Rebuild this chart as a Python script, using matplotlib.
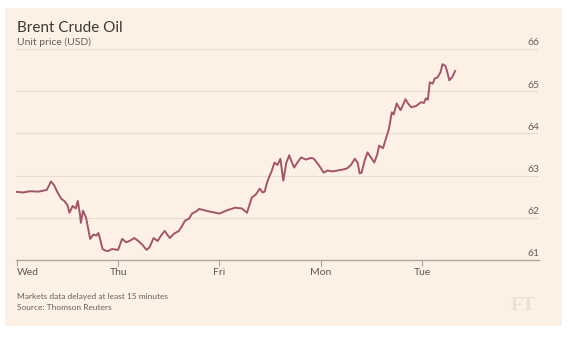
import matplotlib
matplotlib.use("Agg")
import matplotlib.pyplot as plt
from matplotlib.patches import Rectangle

# ---- data (days since Wednesday open; price in USD) ----
days = [-0.020, 0.061, 0.133, 0.214, 0.296, 0.337, 0.367, 0.398, 0.439, 0.469,
        0.500, 0.520, 0.551, 0.582, 0.602, 0.622, 0.633, 0.653, 0.684, 0.704,
        0.724, 0.755, 0.786, 0.806, 0.827, 0.847, 0.878, 0.898, 0.939, 1.000,
        1.040, 1.080, 1.120, 1.160, 1.200, 1.240, 1.280, 1.310, 1.350, 1.390,
        1.430, 1.460, 1.510, 1.550, 1.600, 1.630, 1.660, 1.700, 1.730, 1.770,
        1.800, 1.880, 2.000, 2.078, 2.155, 2.223, 2.272, 2.320, 2.359, 2.398,
        2.427, 2.447, 2.466, 2.485, 2.515, 2.544, 2.573, 2.602, 2.631, 2.660,
        2.689, 2.718, 2.738, 2.767, 2.806, 2.854, 2.903, 2.932, 2.981, 3.029,
        3.067, 3.115, 3.163, 3.212, 3.260, 3.298, 3.337, 3.365, 3.385, 3.404,
        3.433, 3.462, 3.490, 3.529, 3.558, 3.577, 3.615, 3.644, 3.673, 3.702,
        3.721, 3.750, 3.788, 3.808, 3.837, 3.865, 3.894, 3.942, 3.990, 4.019,
        4.038, 4.058, 4.077, 4.106, 4.125, 4.154, 4.183, 4.202, 4.231, 4.250,
        4.269, 4.298, 4.327]
price = [62.62, 62.60, 62.63, 62.62, 62.66, 62.86, 62.78, 62.62, 62.45, 62.40,
         62.30, 62.12, 62.28, 62.22, 62.40, 62.10, 61.88, 62.17, 62.00, 61.75,
         61.50, 61.60, 61.58, 61.64, 61.45, 61.26, 61.22, 61.21, 61.26, 61.24,
         61.50, 61.42, 61.46, 61.52, 61.45, 61.36, 61.24, 61.30, 61.52, 61.45,
         61.60, 61.69, 61.52, 61.62, 61.69, 61.80, 61.93, 61.98, 62.10, 62.15,
         62.21, 62.16, 62.10, 62.18, 62.24, 62.22, 62.12, 62.48, 62.55, 62.69,
         62.60, 62.62, 62.80, 62.93, 63.10, 63.31, 63.25, 63.40, 62.88, 63.30,
         63.48, 63.30, 63.19, 63.30, 63.43, 63.38, 63.42, 63.40, 63.25, 63.07,
         63.12, 63.10, 63.12, 63.14, 63.17, 63.25, 63.40, 63.30, 63.05, 63.07,
         63.35, 63.55, 63.45, 63.31, 63.50, 63.71, 63.65, 63.88, 64.10, 64.50,
         64.45, 64.71, 64.55, 64.65, 64.81, 64.70, 64.62, 64.65, 64.74, 64.72,
         64.83, 64.80, 65.21, 65.18, 65.30, 65.33, 65.45, 65.64, 65.60, 65.45,
         65.26, 65.33, 65.48]
day_ticks = [0, 1, 2, 3, 4]
day_labels = ["Wed", "Thu", "Fri", "Mon", "Tue"]
price_ticks = [61, 62, 63, 64, 65, 66]

title = "Brent Crude Oil"
subtitle = "Unit price (USD)"
notes = ["Markets data delayed at least 15 minutes", "Source: Thomson Reuters"]

W, H = 570, 337
fig = plt.figure(figsize=(W / 100, H / 100), dpi=100)
fig.patch.set_facecolor("white")

bg = "#fdf0e4"
fig.patches.append(Rectangle((5 / W, 1 - 326 / H), 557 / W, 318 / H,
                             transform=fig.transFigure, facecolor=bg,
                             edgecolor="none", zorder=-5))

font = ["Lato", "DejaVu Sans"]

ax = fig.add_axes([16 / W, 1 - 260 / H, (539 - 16) / W, (260 - 49) / H])
ax.set_zorder(2)
ax.patch.set_visible(False)
x0, s = 16.8, 101.3
ax.set_xlim((16 - x0) / s, (539 - x0) / s)
ax.set_ylim(61, 66)

for p in price_ticks[1:]:
    ax.axhline(p, color="#d6cabe", lw=0.8, ls=(0, (1.2, 1.2)), zorder=1)
for p in price_ticks:
    ax.text(1.0, p + 0.04, str(p), transform=ax.get_yaxis_transform(),
            ha="right", va="bottom", fontsize=7.5, color="#66605b",
            family=font)

ax.plot(days, price, color="#a2566a", lw=1.4, zorder=3, solid_joinstyle="round")

for sp in ["top", "right", "left"]:
    ax.spines[sp].set_visible(False)
ax.spines["bottom"].set_color("#a9a39d")
ax.spines["bottom"].set_linewidth(0.9)
ax.set_yticks([])
ax.set_xticks(day_ticks)
ax.set_xticklabels(day_labels, family=font, fontsize=7.5, color="#5e5853")
ax.tick_params(axis="x", direction="out", length=4, width=0.8,
               color="#a9a39d", pad=2)
ax.get_xticklabels()[0].set_horizontalalignment("left")

fig.text(17 / W, 1 - 32 / H, title, fontsize=11, color="#3d3935",
         family=font, va="baseline")
fig.text(17 / W, 1 - 45 / H, subtitle, fontsize=7.5, color="#66605b",
         family=font, va="baseline")
fig.text(17 / W, 1 - 297 / H, notes[0], fontsize=6, color="#66605b",
         family=font, va="center")
fig.text(17 / W, 1 - 307 / H, notes[1], fontsize=6, color="#66605b",
         family=font, va="center")
fig.text(536 / W, 1 - 310 / H, "FT", fontsize=14, color="#ecdfd3",
         family=["Liberation Serif", "DejaVu Serif"], ha="right",
         va="baseline", fontweight="bold")

fig.savefig("out.png", dpi=100, facecolor="white")
